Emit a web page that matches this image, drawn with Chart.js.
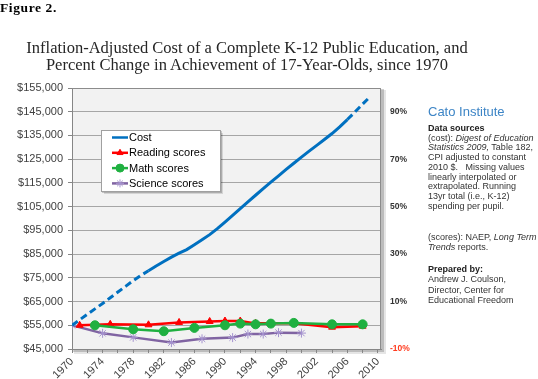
<!DOCTYPE html>
<html>
<head>
<meta charset="utf-8">
<script src="https://cdn.jsdelivr.net/npm/chart.js@4.4.1/dist/chart.umd.min.js"></script>
<style>
  html, body { margin: 0; padding: 0; background: #fff; overflow: hidden; }
  #wrap { position: relative; width: 538px; height: 379px; overflow: hidden; }
  #chart { position: absolute; left: 0; top: 0; }
  .fig { position: absolute; left: 0; top: 0; font: bold 13.5px "Liberation Serif", serif; letter-spacing: 0.6px; color: #000; }
  .title { position: absolute; left: 0; top: 39px; width: 494px; text-align: center; font: 16.5px/17px "Liberation Serif", serif; color: #262626; }
  .side { position: absolute; left: 428px; white-space: nowrap; font: 9px/9.7px "Liberation Sans", sans-serif; color: #333; }
  .cato { top: 104px; font-size: 13px; line-height: 16px; color: #3d85c6; }
  .side b { color: #222; }
</style>
</head>
<body>
<div id="wrap">
  <canvas id="chart" width="538" height="379"></canvas>
  <div class="fig">Figure 2.</div>
  <div class="title">Inflation-Adjusted Cost of a Complete K-12 Public Education, and<br>Percent Change in Achievement of 17-Year-Olds, since 1970</div>
  <div class="side cato">Cato Institute</div>
  <div class="side" style="top:124px"><b>Data sources</b><br>(cost): <i>Digest of Education</i><br><i>Statistics 2009,</i> Table 182,<br>CPI adjusted to constant<br>2010 $.&nbsp;&nbsp; Missing values<br>linearly interpolated or<br>extrapolated. Running<br>13yr total (i.e., K-12)<br>spending per pupil.</div>
  <div class="side" style="top:232px; line-height:10.4px">(scores): NAEP, <i>Long Term</i><br><i>Trends</i> reports.</div>
  <div class="side" style="top:264px; line-height:10.4px"><b>Prepared by:</b><br>Andrew J. Coulson,<br>Director, Center for<br>Educational Freedom</div>
</div>
<script>
  // cost per pupil (13 yr total, 2010 $)
  const costYears = [1970, 1971, 1972, 1973, 1974, 1975, 1976, 1977, 1978, 1979,
    1980, 1981, 1982, 1983, 1984, 1985, 1986, 1987, 1988, 1989,
    1990, 1991, 1992, 1993, 1994, 1995, 1996, 1997, 1998, 1999,
    2000, 2001, 2002, 2003, 2004, 2005, 2006, 2007, 2008, 2009];
  const costValues = [55000, 57300, 59600, 61900, 64200, 66600, 69000, 71400, 73800, 76000,
    78000, 80000, 81900, 83700, 85400, 86900, 88900, 91000, 93200, 95700,
    98500, 101300, 104200, 107000, 109800, 112600, 115300, 118000, 120700, 123300,
    125900, 128400, 130800, 133300, 135800, 138600, 141700, 144900, 148200, 151400];
  const costSolidFrom = 1980;   // dashed before (extrapolated)
  const costSolidTo = 2006;     // dashed after

  // NAEP long term trend, % change since first test
  const readingYears = [1971, 1975, 1980, 1984, 1988, 1990, 1992, 1994, 1996, 1999, 2004, 2008];
  const readingPct = [0, 0.4, 0.2, 1.2, 1.6, 1.8, 1.8, 0.8, 0.8, 0.8, -0.8, -0.4];
  const mathYears = [1973, 1978, 1982, 1986, 1990, 1992, 1994, 1996, 1999, 2004, 2008];
  const mathPct = [0, -1.7, -2.5, -1.1, 0, 0.7, 0.4, 0.7, 1.0, 0.4, 0.4];
  const scienceYears = [1970, 1974, 1978, 1983, 1987, 1991, 1993, 1995, 1997, 2000];
  const sciencePct = [0, -3.4, -5.1, -7.3, -5.7, -5.2, -3.7, -3.7, -3.1, -3.3];

  const labelYears = [1970, 1974, 1978, 1982, 1986, 1990, 1994, 1998, 2002, 2006, 2010];
  const pctTicks = [-10, 10, 30, 50, 70, 90];

  const pts = (xs, ys) => xs.map((x, i) => ({ x: x, y: ys[i] }));
  const axisFont = { family: '"Liberation Sans", sans-serif', size: 11 };

  // plot background, frame + shadow
  const plotFrame = {
    id: 'plotFrame',
    beforeDraw(chart) {
      const { ctx, chartArea: a } = chart;
      const w = a.right - a.left, h = a.bottom - a.top;
      ctx.save();
      ctx.fillStyle = 'rgba(0,0,0,0.10)';
      ctx.fillRect(a.left + 2, a.top + 2, w + 3, h + 3);
      ctx.fillStyle = 'rgba(0,0,0,0.18)';
      ctx.fillRect(a.left + 1, a.top + 1, w + 2, h + 2);
      ctx.fillStyle = '#f2f2f2';
      ctx.fillRect(a.left, a.top, w, h);
      ctx.restore();
    },
    beforeDatasetsDraw(chart) {
      const { ctx, chartArea: a } = chart;
      ctx.save();
      ctx.strokeStyle = '#8c8c8c';
      ctx.lineWidth = 1;
      ctx.beginPath();
      ctx.moveTo(a.left, a.top + 0.5);
      ctx.lineTo(a.right - 0.5, a.top + 0.5);
      ctx.lineTo(a.right - 0.5, a.bottom);
      ctx.stroke();
      ctx.restore();
    }
  };

  // boxed legend inside the plot
  const boxLegend = {
    id: 'boxLegend',
    afterDraw(chart) {
      const ctx = chart.ctx;
      const bx = 101, by = 130, bw = 119, bh = 61;
      ctx.save();
      ctx.fillStyle = 'rgba(0,0,0,0.12)';
      ctx.fillRect(bx + 3, by + 3, bw, bh);
      ctx.fillStyle = 'rgba(0,0,0,0.18)';
      ctx.fillRect(bx + 1, by + 1, bw + 1, bh + 1);
      ctx.fillStyle = '#fff';
      ctx.fillRect(bx, by, bw, bh);
      ctx.strokeStyle = '#a0a0a0';
      ctx.strokeRect(bx + 0.5, by + 0.5, bw, bh);
      ctx.font = '11px "Liberation Sans", sans-serif';
      ctx.textBaseline = 'middle';
      ['cost', 'reading', 'math', 'science'].forEach((key, i) => {
        const ds = chart.data.datasets.find(d => d.key === key);
        const y = by + 7.5 + i * 15.3;
        ctx.strokeStyle = ds.borderColor;
        ctx.lineWidth = 2.5;
        ctx.beginPath();
        ctx.moveTo(112, y);
        ctx.lineTo(128, y);
        ctx.stroke();
        if (ds.pointRadius) {
          ctx.fillStyle = ds.pointBackgroundColor;
          ctx.strokeStyle = ds.pointBorderColor;
          ctx.lineWidth = ds.pointBorderWidth;
          Chart.helpers.drawPoint(ctx, { pointStyle: ds.pointStyle, radius: ds.pointRadius - 0.5, rotation: 0, borderWidth: ds.pointBorderWidth }, 120, y);
        }
        ctx.fillStyle = '#000';
        ctx.fillText(ds.label, 129, y + 0.5);
      });
      ctx.restore();
    }
  };

  new Chart(document.getElementById('chart'), {
    type: 'line',
    data: {
      datasets: [
        {
          key: 'cost', label: 'Cost', yAxisID: 'y', order: 0,
          data: pts(costYears, costValues),
          borderColor: '#0070c0', borderWidth: 3, pointRadius: 0,
          segment: {
            borderDash: c => (c.p0.parsed.x < costSolidFrom || c.p0.parsed.x >= costSolidTo) ? [7, 4] : undefined
          }
        },
        {
          key: 'reading', label: 'Reading scores', yAxisID: 'y2', order: 2,
          data: pts(readingYears, readingPct),
          borderColor: '#ff0000', borderWidth: 2.5,
          pointStyle: 'triangle', pointRadius: 4, pointBackgroundColor: '#ff0000',
          pointBorderColor: '#ff0000', pointBorderWidth: 1
        },
        {
          key: 'math', label: 'Math scores', yAxisID: 'y2', order: 1,
          data: pts(mathYears, mathPct),
          borderColor: '#1fb040', borderWidth: 2.5,
          pointStyle: 'circle', pointRadius: 4.5, pointBackgroundColor: '#1fb040',
          pointBorderColor: '#1fb040', pointBorderWidth: 1
        },
        {
          key: 'science', label: 'Science scores', yAxisID: 'y2', order: 3,
          data: pts(scienceYears, sciencePct),
          borderColor: '#8064a2', borderWidth: 2.5,
          pointStyle: 'star', pointRadius: 4.5, pointBackgroundColor: '#a593cf',
          pointBorderColor: '#a593cf', pointBorderWidth: 1
        }
      ]
    },
    options: {
      responsive: false,
      animation: false,
      events: [],
      layout: { padding: { top: 88, left: 0, right: 0, bottom: 0 } },
      plugins: { legend: { display: false }, title: { display: false }, tooltip: { enabled: false } },
      scales: {
        x: {
          type: 'linear', min: 1970, max: 2010.4,
          afterBuildTicks: s => {
            const t = [];
            for (let yr = 1970; yr <= 2010; yr += 2) t.push({ value: yr });
            s.ticks = t;
          },
          afterFit: s => { s.height = 30; },
          grid: { drawOnChartArea: false, color: '#868686', tickLength: 4 },
          border: { color: '#868686' },
          ticks: {
            autoSkip: false, minRotation: 45, maxRotation: 45, padding: 2,
            color: '#404040', font: axisFont,
            callback: v => labelYears.includes(v) ? String(v) : ''
          }
        },
        y: {
          position: 'left', min: 45000, max: 155000,
          afterFit: s => { s.width = 72; },
          grid: { color: '#a6a6a6', tickColor: '#868686', tickLength: 4 },
          border: { color: '#868686' },
          ticks: {
            stepSize: 10000, padding: 5, color: '#404040', font: axisFont,
            callback: v => '$' + v.toLocaleString('en-US')
          }
        },
        y2: {
          position: 'right', min: -10, max: 100,
          afterBuildTicks: s => { s.ticks = pctTicks.map(v => ({ value: v })); },
          afterFit: s => { s.width = 157; },
          grid: { display: false, drawTicks: false },
          border: { display: false },
          ticks: {
            padding: 9,
            font: { family: '"Liberation Sans", sans-serif', size: 8.5, weight: 'bold' },
            color: c => c.tick && c.tick.value < 0 ? '#ff3b1f' : '#333',
            callback: v => v + '%'
          }
        }
      }
    },
    plugins: [plotFrame, boxLegend]
  });
</script>
</body>
</html>
